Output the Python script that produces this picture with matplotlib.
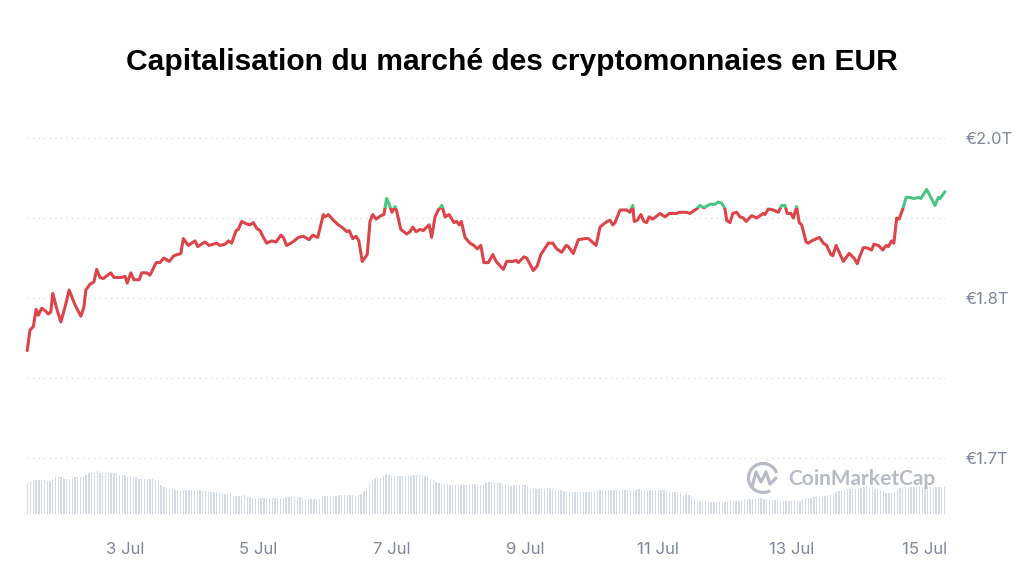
import numpy as np
import matplotlib
matplotlib.use("Agg")
import matplotlib.pyplot as plt
from matplotlib.patches import Rectangle, Arc

plt.rcParams['font.family'] = ['Inter', 'DejaVu Sans']

# heures depuis le 1 juil. 00:00
hours = [12.8, 13.8, 15.0, 16.0, 16.8, 18.0, 19.2, 20.4, 21.3, 22.0,
         23.4, 24.9, 26.4, 27.9, 30.0, 32.1, 33.2, 33.9, 35.4, 36.8,
         37.8, 39.0, 40.2, 41.2, 42.9, 44.0, 45.2, 46.8, 48.0, 48.8,
         50.1, 51.2, 53.1, 54.0, 55.8, 57.0, 59.2, 60.6, 62.0, 63.9,
         65.6, 68.1, 69.0, 70.8, 73.2, 74.2, 76.8, 78.3, 81.0, 82.2,
         84.0, 85.2, 86.4, 88.0, 88.8, 90.0, 91.6, 93.0, 94.2, 95.4,
         96.6, 97.6, 99.0, 100.8, 102.4, 104.1, 105.0, 106.2, 108.4, 110.4,
         112.2, 114.3, 115.6, 117.4, 119.4, 120.0, 121.2, 123.0, 124.8, 126.6,
         127.8, 128.7, 130.0, 131.2, 132.2, 133.4, 135.2, 136.2, 137.2, 138.4,
         140.1, 141.2, 142.2, 143.1, 144.1, 145.2, 145.8, 147.3, 149.4, 150.6,
         151.6, 152.8, 154.2, 155.4, 156.6, 157.5, 158.4, 159.6, 160.8, 162.1,
         163.2, 164.7, 166.4, 167.4, 168.3, 169.1, 170.4, 172.2, 173.6, 174.8,
         176.1, 177.2, 178.8, 180.4, 181.6, 184.2, 185.4, 187.8, 188.8, 189.6,
         191.6, 192.6, 195.0, 196.4, 197.7, 200.4, 202.0, 203.4, 205.2, 206.8,
         207.6, 209.4, 211.2, 213.6, 214.8, 217.6, 219.0, 220.4, 221.6, 222.6,
         223.6, 224.4, 226.2, 228.6, 229.8, 230.8, 231.3, 232.4, 233.7, 234.8,
         235.8, 236.7, 238.0, 240.6, 242.4, 244.0, 246.6, 247.5, 249.0, 250.2,
         251.4, 253.8, 255.0, 256.4, 258.6, 260.4, 261.6, 262.8, 264.0, 264.6,
         265.8, 266.8, 268.2, 269.4, 270.6, 271.6, 273.6, 275.4, 276.6, 277.8,
         278.4, 279.6, 281.4, 283.2, 284.4, 285.6, 286.4, 287.7, 288.6, 289.8,
         290.7, 291.6, 293.2, 294.0, 295.2, 297.0, 298.0, 299.4, 300.6, 302.1,
         302.8, 304.0, 305.1, 306.6, 308.7, 310.4, 311.6, 312.6, 313.8, 315.0,
         316.8, 317.6, 319.2, 320.8, 322.0, 322.8, 324.0, 324.8, 325.8, 326.7,
         328.0, 329.2, 330.6, 332.0, 333.6, 334.5, 336.6, 338.1, 339.6, 340.8,
         341.4, 343.2]

# capitalisation en milliards d'EUR
cap_bn = [1794, 1812, 1815, 1830, 1825, 1831, 1829, 1826, 1828, 1844,
          1831, 1819, 1832, 1847, 1834, 1824, 1832, 1847, 1852, 1854,
          1865, 1858, 1857, 1859, 1862, 1858, 1858, 1858, 1859, 1853,
          1862, 1856, 1856, 1862, 1862, 1860, 1871, 1871, 1875, 1872,
          1877, 1879, 1892, 1886, 1890, 1885, 1889, 1886, 1888, 1886,
          1887, 1890, 1888, 1899, 1900, 1907, 1905, 1904, 1906, 1901,
          1899, 1894, 1888, 1890, 1889, 1895, 1893, 1886, 1889, 1893,
          1894, 1891, 1895, 1893, 1913, 1911, 1913, 1908, 1904, 1901,
          1898, 1899, 1892, 1894, 1890, 1872, 1878, 1907, 1913, 1909,
          1912, 1913, 1927, 1922, 1915, 1920, 1916, 1900, 1896, 1898,
          1902, 1898, 1900, 1899, 1902, 1904, 1893, 1911, 1917, 1921,
          1911, 1913, 1906, 1907, 1904, 1907, 1893, 1888, 1886, 1883,
          1886, 1871, 1871, 1878, 1872, 1865, 1872, 1872, 1873, 1871,
          1876, 1875, 1864, 1868, 1878, 1888, 1888, 1883, 1880, 1886,
          1885, 1879, 1891, 1892, 1892, 1886, 1902, 1905, 1907, 1908,
          1904, 1906, 1917, 1917, 1915, 1921, 1907, 1908, 1913, 1907,
          1906, 1911, 1909, 1914, 1911, 1914, 1914, 1915, 1915, 1915,
          1914, 1918, 1921, 1919, 1922, 1922, 1924, 1923, 1918, 1908,
          1906, 1914, 1915, 1911, 1910, 1907, 1912, 1910, 1912, 1914,
          1913, 1918, 1917, 1915, 1921, 1921, 1914, 1914, 1910, 1920,
          1906, 1904, 1889, 1888, 1890, 1892, 1893, 1888, 1886, 1878,
          1877, 1886, 1880, 1872, 1879, 1875, 1870, 1877, 1884, 1884,
          1882, 1887, 1886, 1882, 1886, 1885, 1890, 1888, 1910, 1909,
          1918, 1928, 1928, 1927, 1928, 1927, 1935, 1928, 1921, 1928,
          1927, 1933]

# volume horaire (unite arbitraire)
vol_hours = list(range(13, 344))
volume = [63, 66, 69, 69, 69, 69, 69, 67, 67, 70,
          75, 75, 75, 71, 71, 71, 71, 75, 75, 75,
          75, 79, 83, 83, 83, 87, 83, 83, 83, 83,
          83, 83, 83, 78, 78, 78, 75, 75, 75, 75,
          71, 71, 71, 71, 71, 71, 69, 67, 58, 55,
          51, 51, 51, 49, 47, 47, 49, 49, 49, 49,
          49, 49, 49, 47, 47, 47, 45, 44, 44, 44,
          42, 40, 40, 40, 36, 36, 36, 37, 38, 35,
          35, 32, 32, 32, 32, 32, 32, 32, 32, 32,
          32, 32, 32, 35, 35, 35, 35, 35, 35, 30,
          30, 30, 30, 30, 30, 31, 36, 36, 36, 36,
          36, 36, 39, 39, 39, 39, 39, 39, 37, 39,
          41, 47, 53, 62, 69, 73, 73, 73, 76, 81,
          78, 76, 76, 76, 76, 76, 76, 76, 77, 79,
          79, 79, 77, 76, 76, 70, 68, 65, 62, 60,
          61, 61, 59, 59, 59, 59, 59, 59, 59, 61,
          61, 60, 59, 59, 59, 62, 65, 65, 64, 63,
          63, 61, 59, 57, 57, 58, 58, 58, 58, 58,
          55, 51, 51, 51, 51, 51, 51, 52, 53, 50,
          48, 48, 48, 46, 45, 45, 45, 45, 45, 45,
          45, 45, 45, 45, 46, 48, 48, 48, 48, 48,
          48, 49, 49, 49, 50, 49, 49, 48, 49, 49,
          50, 49, 49, 49, 48, 49, 49, 49, 49, 48,
          47, 44, 44, 44, 44, 42, 38, 38, 38, 35,
          31, 27, 27, 25, 25, 25, 25, 25, 25, 25,
          25, 25, 25, 27, 27, 27, 27, 28, 30, 30,
          30, 30, 31, 32, 32, 31, 29, 29, 29, 29,
          28, 27, 27, 27, 27, 27, 27, 27, 27, 30,
          32, 32, 33, 35, 35, 35, 35, 37, 39, 39,
          41, 45, 47, 47, 49, 51, 51, 51, 51, 51,
          53, 55, 55, 55, 55, 51, 48, 48, 46, 43,
          43, 43, 45, 48, 53, 55, 55, 55, 55, 55,
          55, 55, 55, 55, 55, 55, 55, 55, 55, 55,
          55]

xtick_hours = [48, 96, 144, 192, 240, 288, 336]
xtick_labels = ["3 Jul", "5 Jul", "7 Jul", "9 Jul", "11 Jul", "13 Jul", "15 Jul"]
ytick_vals = [1.70, 1.77, 1.84, 1.91, 1.98]
ytick_labels = ["€1.7T", "", "€1.8T", "", "€2.0T"]
threshold = 1.9185

red = '#db4549'
green = '#4cc584'
grey_txt = '#80879c'

fig = plt.figure(figsize=(10.24, 5.68), dpi=100)
ax = fig.add_axes([27/1024, 54/568, 918/1024, 404/568])
axv = ax.twinx()
ax.set_zorder(2)
ax.patch.set_visible(False)

# volume en fond
axv.bar(vol_hours, volume, width=0.45, color='#d4dae6', linewidth=0)
axv.set_ylim(0, 808)
axv.set_yticks([])

cap = np.array(cap_bn) / 1000.0
for col, ylo, yhi in ((red, 0, threshold), (green, threshold, 5)):
    ln, = ax.plot(hours, cap, color=col, lw=2.2,
                  solid_joinstyle='round', solid_capstyle='round', zorder=3)
    clip = Rectangle((0, ylo), 400, yhi - ylo, transform=ax.transData)
    ln.set_clip_path(clip)

ax.set_xlim(12.72, 343.2)
ax.set_ylim(1.651, 2.0045)
ax.set_yticks(ytick_vals)
ax.set_yticklabels(ytick_labels)
ax.yaxis.tick_right()
ax.tick_params(axis='y', length=0, pad=15, labelsize=12, labelcolor=grey_txt)
ax.set_xticks(xtick_hours)
ax.set_xticklabels(xtick_labels)
ax.tick_params(axis='x', length=0, pad=20, labelsize=12, labelcolor=grey_txt)
ax.grid(axis='y', color='#d9dce3', linestyle=(0, (1, 3)), linewidth=1)
ax.grid(axis='x', visible=False)
for a in (ax, axv):
    for s in a.spines.values():
        s.set_visible(False)

fig.text(0.5, 1 - 62/568, "Capitalisation du marché des cryptomonnaies en EUR",
         ha='center', va='center', fontsize=21.6, fontweight='bold',
         family=['Liberation Sans', 'DejaVu Sans'], color='black')

# filigrane
ov = fig.add_axes([0, 0, 1, 1])
ov.set_xlim(0, 1024)
ov.set_ylim(568, 0)
ov.axis('off')
wm = '#b7bbc6'
ov.text(788, 479, "CoinMarketCap", fontsize=15, fontweight='bold',
        family=['Lato', 'DejaVu Sans'], color=wm, va='center', ha='left')
ov.add_patch(Arc((763, 478), 29, 29, theta1=60, theta2=340, color=wm, lw=2.3))
ov.plot([752, 756, 761, 766, 770, 776], [487, 472, 482, 472, 484, 478],
        color=wm, lw=2.3, solid_joinstyle='round', solid_capstyle='round')

fig.savefig("out.png", dpi=100)
